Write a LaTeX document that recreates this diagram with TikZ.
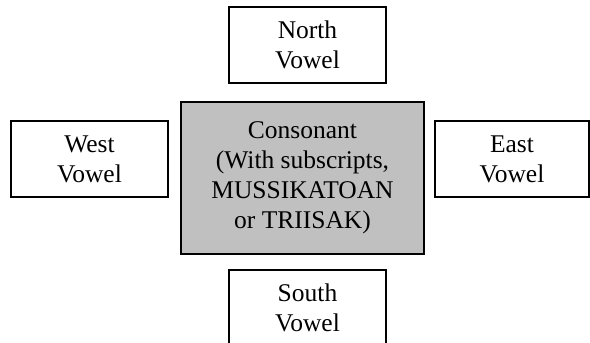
\documentclass[tikz,border=0pt]{standalone}
\usepackage{fontspec}
\setmainfont{Liberation Serif}
\definecolor{boxgray}{HTML}{C0C0C0}
\begin{document}
\begin{tikzpicture}[x=1pt,y=-1pt,
  vbox/.style={draw=black,line width=1.3pt,rectangle,align=center,inner sep=0pt,
    font=\fontsize{25.5}{30}\selectfont},
  cbox/.style={vbox,fill=boxgray}]
\useasboundingbox (0,0) rectangle (590,343);
\clip (0,0) rectangle (590,343);
\node[vbox,minimum width=157pt,minimum height=76pt] (north) at (307.5,45) {North\\Vowel};
\node[vbox,minimum width=157pt,minimum height=76pt] (west) at (89.5,159) {West\\Vowel};
\node[vbox,minimum width=154pt,minimum height=76pt] (east) at (512,159) {East\\Vowel};
\node[vbox,minimum width=157pt,minimum height=76pt] (south) at (307.5,308) {South\\Vowel};
\node[cbox,minimum width=243pt,minimum height=152pt] (center) at (302.5,178) {Consonant\\(With subscripts,\\MUSSIKATOAN\\or TRIISAK)};
\end{tikzpicture}
\end{document}
